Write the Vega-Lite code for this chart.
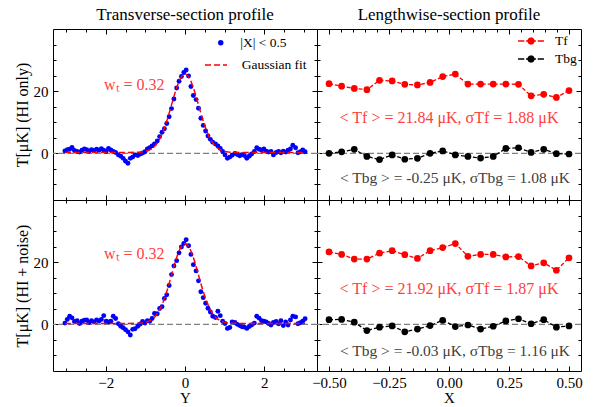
{
  "$schema": "https://vega.github.io/schema/vega-lite/v6.json",
  "padding": {"left": 13, "top": 5, "right": 0, "bottom": 0},
  "background": "white",
  "config": {
    "view": {"stroke": "#000000", "strokeWidth": 1},
    "axis": {"domain": false, "grid": false, "ticks": true, "tickColor": "#000000", "tickWidth": 1, "labelFlush": false, "labelOverlap": false, "labelFont": "Liberation Serif", "labelFontSize": 15, "labelColor": "#000000", "titleFont": "Liberation Serif", "titleFontSize": 16, "titleFontWeight": "normal", "titleColor": "#000000"},
    "title": {"font": "Liberation Serif", "fontSize": 17, "fontWeight": "normal", "color": "#000000", "offset": 5, "anchor": "middle"},
    "legend": {"labelFont": "Liberation Serif", "labelFontSize": 13.5, "labelColor": "#000000", "padding": 0, "symbolStrokeWidth": 1.5}
  },
  "datasets": {
    "trans_hi": [
      {"Y":-3.03,"T":0.8},{"Y":-2.97,"T":1.2},{"Y":-2.91,"T":1.3},{"Y":-2.85,"T":1.9},{"Y":-2.79,"T":0.9},{"Y":-2.72,"T":0.6},{"Y":-2.66,"T":0.4},{"Y":-2.60,"T":1.0},{"Y":-2.54,"T":1.4},{"Y":-2.48,"T":1.2},
      {"Y":-2.42,"T":0.7},{"Y":-2.36,"T":1.2},{"Y":-2.30,"T":0.9},{"Y":-2.23,"T":1.3},{"Y":-2.17,"T":1.0},{"Y":-2.11,"T":1.5},{"Y":-2.05,"T":1.0},{"Y":-1.99,"T":0.6},{"Y":-1.93,"T":1.6},{"Y":-1.87,"T":1.1},
      {"Y":-1.81,"T":0.6},{"Y":-1.75,"T":0.3},{"Y":-1.68,"T":-0.5},{"Y":-1.62,"T":-0.9},{"Y":-1.56,"T":-1.6},{"Y":-1.50,"T":-2.5},{"Y":-1.44,"T":-3.2},{"Y":-1.38,"T":-1.6},{"Y":-1.32,"T":-1.2},{"Y":-1.26,"T":-0.5},
      {"Y":-1.19,"T":-0.7},{"Y":-1.13,"T":-0.2},{"Y":-1.07,"T":0.1},{"Y":-1.01,"T":0.5},{"Y":-0.95,"T":1.4},{"Y":-0.89,"T":1.8},{"Y":-0.83,"T":2.4},{"Y":-0.77,"T":3.0},{"Y":-0.70,"T":4.0},{"Y":-0.64,"T":5.4},
      {"Y":-0.58,"T":6.8},{"Y":-0.52,"T":7.9},{"Y":-0.46,"T":9.6},{"Y":-0.40,"T":11.8},{"Y":-0.34,"T":14.4},{"Y":-0.28,"T":17.5},{"Y":-0.21,"T":21.0},{"Y":-0.15,"T":23.2},{"Y":-0.09,"T":24.7},{"Y":-0.03,"T":26.0},
      {"Y":0.03,"T":26.8},{"Y":0.09,"T":24.9},{"Y":0.15,"T":21.5},{"Y":0.21,"T":18.6},{"Y":0.28,"T":17.3},{"Y":0.34,"T":14.5},{"Y":0.40,"T":11.3},{"Y":0.46,"T":9.0},{"Y":0.52,"T":7.2},{"Y":0.58,"T":5.6},
      {"Y":0.64,"T":4.5},{"Y":0.70,"T":3.6},{"Y":0.77,"T":3.0},{"Y":0.83,"T":2.4},{"Y":0.89,"T":1.6},{"Y":0.95,"T":0.6},{"Y":1.01,"T":-0.5},{"Y":1.07,"T":-1.6},{"Y":1.13,"T":-1.2},{"Y":1.19,"T":-0.6},
      {"Y":1.26,"T":0.0},{"Y":1.32,"T":-0.4},{"Y":1.38,"T":-0.8},{"Y":1.44,"T":-0.4},{"Y":1.50,"T":-0.7},{"Y":1.56,"T":-1.6},{"Y":1.62,"T":-0.9},{"Y":1.68,"T":-0.2},{"Y":1.75,"T":0.6},{"Y":1.81,"T":1.8},
      {"Y":1.87,"T":1.3},{"Y":1.93,"T":1.1},{"Y":1.99,"T":1.4},{"Y":2.05,"T":0.7},{"Y":2.11,"T":0.4},{"Y":2.17,"T":0.6},{"Y":2.23,"T":-0.5},{"Y":2.30,"T":0.3},{"Y":2.36,"T":0.6},{"Y":2.42,"T":0.2},
      {"Y":2.48,"T":0.7},{"Y":2.54,"T":0.4},{"Y":2.60,"T":1.0},{"Y":2.66,"T":1.4},{"Y":2.72,"T":2.6},{"Y":2.79,"T":1.8},{"Y":2.85,"T":0.2},{"Y":2.91,"T":0.5},{"Y":2.97,"T":1.1},{"Y":3.03,"T":0.5}
    ],
    "trans_noise": [
      {"Y":-3.03,"T":0.4},{"Y":-2.97,"T":1.6},{"Y":-2.91,"T":2.6},{"Y":-2.85,"T":2.1},{"Y":-2.79,"T":0.9},{"Y":-2.72,"T":1.2},{"Y":-2.66,"T":0.3},{"Y":-2.60,"T":1.0},{"Y":-2.54,"T":1.3},{"Y":-2.48,"T":1.4},
      {"Y":-2.42,"T":0.6},{"Y":-2.36,"T":1.2},{"Y":-2.30,"T":0.8},{"Y":-2.23,"T":1.4},{"Y":-2.17,"T":1.1},{"Y":-2.11,"T":1.6},{"Y":-2.05,"T":2.8},{"Y":-1.99,"T":1.0},{"Y":-1.93,"T":0.8},{"Y":-1.87,"T":1.0},
      {"Y":-1.81,"T":2.6},{"Y":-1.75,"T":1.9},{"Y":-1.68,"T":0.2},{"Y":-1.62,"T":-0.6},{"Y":-1.56,"T":-1.1},{"Y":-1.50,"T":-1.7},{"Y":-1.44,"T":-2.4},{"Y":-1.38,"T":-3.4},{"Y":-1.32,"T":-1.6},{"Y":-1.26,"T":-1.4},
      {"Y":-1.19,"T":-0.6},{"Y":-1.13,"T":0.1},{"Y":-1.07,"T":0.9},{"Y":-1.01,"T":0.4},{"Y":-0.95,"T":1.2},{"Y":-0.89,"T":1.0},{"Y":-0.83,"T":1.9},{"Y":-0.77,"T":3.5},{"Y":-0.70,"T":3.4},{"Y":-0.64,"T":5.1},
      {"Y":-0.58,"T":5.7},{"Y":-0.52,"T":8.3},{"Y":-0.46,"T":9.5},{"Y":-0.40,"T":12.5},{"Y":-0.34,"T":16.0},{"Y":-0.28,"T":18.8},{"Y":-0.21,"T":20.5},{"Y":-0.15,"T":23.0},{"Y":-0.09,"T":24.9},{"Y":-0.03,"T":26.0},
      {"Y":0.03,"T":27.2},{"Y":0.09,"T":25.3},{"Y":0.15,"T":22.5},{"Y":0.21,"T":19.2},{"Y":0.28,"T":17.2},{"Y":0.34,"T":14.0},{"Y":0.40,"T":10.5},{"Y":0.46,"T":8.6},{"Y":0.52,"T":6.8},{"Y":0.58,"T":5.2},
      {"Y":0.64,"T":4.0},{"Y":0.70,"T":2.6},{"Y":0.77,"T":2.2},{"Y":0.83,"T":4.2},{"Y":0.89,"T":2.8},{"Y":0.95,"T":1.0},{"Y":1.01,"T":0.3},{"Y":1.07,"T":-1.3},{"Y":1.13,"T":-1.0},{"Y":1.19,"T":0.8},
      {"Y":1.26,"T":0.6},{"Y":1.32,"T":0.0},{"Y":1.38,"T":-0.4},{"Y":1.44,"T":-0.8},{"Y":1.50,"T":-0.9},{"Y":1.56,"T":-1.3},{"Y":1.62,"T":-0.7},{"Y":1.68,"T":-0.2},{"Y":1.75,"T":0.4},{"Y":1.81,"T":2.6},
      {"Y":1.87,"T":2.0},{"Y":1.93,"T":1.2},{"Y":1.99,"T":1.0},{"Y":2.05,"T":0.8},{"Y":2.11,"T":0.3},{"Y":2.17,"T":-0.2},{"Y":2.23,"T":0.6},{"Y":2.30,"T":0.9},{"Y":2.36,"T":0.2},{"Y":2.42,"T":1.2},
      {"Y":2.48,"T":-0.4},{"Y":2.54,"T":0.8},{"Y":2.60,"T":-0.2},{"Y":2.66,"T":1.4},{"Y":2.72,"T":2.6},{"Y":2.79,"T":2.4},{"Y":2.85,"T":0.2},{"Y":2.91,"T":0.5},{"Y":2.97,"T":1.0},{"Y":3.03,"T":1.8}
    ],
    "fit_hi": [
      {"Y":-3.03,"T":0.3},{"Y":-1.4,"T":0.31},{"Y":-1.2,"T":0.35},{"Y":-1.1,"T":0.43},{"Y":-1.0,"T":0.63},{"Y":-0.9,"T":1.06},{"Y":-0.8,"T":1.88},{"Y":-0.75,"T":2.51},{"Y":-0.7,"T":3.33},{"Y":-0.65,"T":4.35},{"Y":-0.6,"T":5.61},{"Y":-0.55,"T":7.11},{"Y":-0.5,"T":8.85},{"Y":-0.45,"T":10.8},{"Y":-0.4,"T":12.91},{"Y":-0.35,"T":15.14},{"Y":-0.3,"T":17.38},{"Y":-0.25,"T":19.53},{"Y":-0.2,"T":21.49},{"Y":-0.15,"T":23.16},{"Y":-0.1,"T":24.43},{"Y":-0.05,"T":25.23},
      {"Y":0,"T":25.5},
      {"Y":0.05,"T":25.23},{"Y":0.1,"T":24.43},{"Y":0.15,"T":23.16},{"Y":0.2,"T":21.49},{"Y":0.25,"T":19.53},{"Y":0.3,"T":17.38},{"Y":0.35,"T":15.14},{"Y":0.4,"T":12.91},{"Y":0.45,"T":10.8},{"Y":0.5,"T":8.85},{"Y":0.55,"T":7.11},{"Y":0.6,"T":5.61},{"Y":0.65,"T":4.35},{"Y":0.7,"T":3.33},{"Y":0.75,"T":2.51},{"Y":0.8,"T":1.88},{"Y":0.9,"T":1.06},{"Y":1.0,"T":0.63},{"Y":1.1,"T":0.43},{"Y":1.2,"T":0.35},{"Y":1.4,"T":0.31},{"Y":3.03,"T":0.3}
    ],
    "fit_noise": [
      {"Y":-3.03,"T":0.3},{"Y":-1.4,"T":0.31},{"Y":-1.2,"T":0.35},{"Y":-1.1,"T":0.44},{"Y":-1.0,"T":0.64},{"Y":-0.9,"T":1.07},{"Y":-0.8,"T":1.91},{"Y":-0.75,"T":2.56},{"Y":-0.7,"T":3.39},{"Y":-0.65,"T":4.43},{"Y":-0.6,"T":5.71},{"Y":-0.55,"T":7.25},{"Y":-0.5,"T":9.02},{"Y":-0.45,"T":11.0},{"Y":-0.4,"T":13.17},{"Y":-0.35,"T":15.43},{"Y":-0.3,"T":17.71},{"Y":-0.25,"T":19.91},{"Y":-0.2,"T":21.91},{"Y":-0.15,"T":23.62},{"Y":-0.1,"T":24.91},{"Y":-0.05,"T":25.72},
      {"Y":0,"T":26.0},
      {"Y":0.05,"T":25.72},{"Y":0.1,"T":24.91},{"Y":0.15,"T":23.62},{"Y":0.2,"T":21.91},{"Y":0.25,"T":19.91},{"Y":0.3,"T":17.71},{"Y":0.35,"T":15.43},{"Y":0.4,"T":13.17},{"Y":0.45,"T":11.0},{"Y":0.5,"T":9.02},{"Y":0.55,"T":7.25},{"Y":0.6,"T":5.71},{"Y":0.65,"T":4.43},{"Y":0.7,"T":3.39},{"Y":0.75,"T":2.56},{"Y":0.8,"T":1.91},{"Y":0.9,"T":1.07},{"Y":1.0,"T":0.64},{"Y":1.1,"T":0.44},{"Y":1.2,"T":0.35},{"Y":1.4,"T":0.31},{"Y":3.03,"T":0.3}
    ],
    "len_hi": [
      {"X":-0.5,"T":22.4,"series":"Tf"},{"X":-0.4474,"T":21.6,"series":"Tf"},{"X":-0.3947,"T":20.9,"series":"Tf"},{"X":-0.3421,"T":20.5,"series":"Tf"},{"X":-0.2895,"T":23.5,"series":"Tf"},{"X":-0.2368,"T":23.3,"series":"Tf"},{"X":-0.1842,"T":22.2,"series":"Tf"},{"X":-0.1316,"T":22.0,"series":"Tf"},{"X":-0.0789,"T":22.8,"series":"Tf"},{"X":-0.0263,"T":24.7,"series":"Tf"},
      {"X":0.0263,"T":25.5,"series":"Tf"},{"X":0.0789,"T":22.3,"series":"Tf"},{"X":0.1316,"T":22.3,"series":"Tf"},{"X":0.1842,"T":22.3,"series":"Tf"},{"X":0.2368,"T":22.3,"series":"Tf"},{"X":0.2895,"T":22.2,"series":"Tf"},{"X":0.3421,"T":18.5,"series":"Tf"},{"X":0.3947,"T":19.0,"series":"Tf"},{"X":0.4474,"T":18.0,"series":"Tf"},{"X":0.5,"T":20.2,"series":"Tf"},
      {"X":-0.5,"T":0.0,"series":"Tbg"},{"X":-0.4474,"T":0.5,"series":"Tbg"},{"X":-0.3947,"T":1.3,"series":"Tbg"},{"X":-0.3421,"T":-1.0,"series":"Tbg"},{"X":-0.2895,"T":-2.0,"series":"Tbg"},{"X":-0.2368,"T":-0.5,"series":"Tbg"},{"X":-0.1842,"T":-1.9,"series":"Tbg"},{"X":-0.1316,"T":-1.6,"series":"Tbg"},{"X":-0.0789,"T":0.0,"series":"Tbg"},{"X":-0.0263,"T":0.8,"series":"Tbg"},
      {"X":0.0263,"T":-0.5,"series":"Tbg"},{"X":0.0789,"T":-1.0,"series":"Tbg"},{"X":0.1316,"T":-1.5,"series":"Tbg"},{"X":0.1842,"T":-1.0,"series":"Tbg"},{"X":0.2368,"T":1.6,"series":"Tbg"},{"X":0.2895,"T":1.8,"series":"Tbg"},{"X":0.3421,"T":0.3,"series":"Tbg"},{"X":0.3947,"T":1.3,"series":"Tbg"},{"X":0.4474,"T":-0.1,"series":"Tbg"},{"X":0.5,"T":-0.2,"series":"Tbg"}
    ],
    "len_noise": [
      {"X":-0.5,"T":23.3,"series":"Tf"},{"X":-0.4474,"T":22.5,"series":"Tf"},{"X":-0.3947,"T":21.0,"series":"Tf"},{"X":-0.3421,"T":21.0,"series":"Tf"},{"X":-0.2895,"T":22.9,"series":"Tf"},{"X":-0.2368,"T":23.7,"series":"Tf"},{"X":-0.1842,"T":22.4,"series":"Tf"},{"X":-0.1316,"T":21.2,"series":"Tf"},{"X":-0.0789,"T":23.7,"series":"Tf"},{"X":-0.0263,"T":24.7,"series":"Tf"},
      {"X":0.0263,"T":26.0,"series":"Tf"},{"X":0.0789,"T":21.9,"series":"Tf"},{"X":0.1316,"T":22.5,"series":"Tf"},{"X":0.1842,"T":22.5,"series":"Tf"},{"X":0.2368,"T":21.7,"series":"Tf"},{"X":0.2895,"T":21.8,"series":"Tf"},{"X":0.3421,"T":18.8,"series":"Tf"},{"X":0.3947,"T":19.8,"series":"Tf"},{"X":0.4474,"T":17.4,"series":"Tf"},{"X":0.5,"T":21.4,"series":"Tf"},
      {"X":-0.5,"T":1.5,"series":"Tbg"},{"X":-0.4474,"T":1.6,"series":"Tbg"},{"X":-0.3947,"T":0.7,"series":"Tbg"},{"X":-0.3421,"T":-2.0,"series":"Tbg"},{"X":-0.2895,"T":-0.9,"series":"Tbg"},{"X":-0.2368,"T":-0.5,"series":"Tbg"},{"X":-0.1842,"T":-2.4,"series":"Tbg"},{"X":-0.1316,"T":-1.5,"series":"Tbg"},{"X":-0.0789,"T":-0.4,"series":"Tbg"},{"X":-0.0263,"T":1.3,"series":"Tbg"},
      {"X":0.0263,"T":-0.7,"series":"Tbg"},{"X":0.0789,"T":-0.2,"series":"Tbg"},{"X":0.1316,"T":-1.5,"series":"Tbg"},{"X":0.1842,"T":-0.6,"series":"Tbg"},{"X":0.2368,"T":1.1,"series":"Tbg"},{"X":0.2895,"T":1.8,"series":"Tbg"},{"X":0.3421,"T":0.2,"series":"Tbg"},{"X":0.3947,"T":1.5,"series":"Tbg"},{"X":0.4474,"T":-0.9,"series":"Tbg"},{"X":0.5,"T":-0.5,"series":"Tbg"}
    ],
    "notes": [
      {"case":"HI only","kind":"w","text":"wₜ = 0.32","x":-1.28,"y":22.0},
      {"case":"HI + noise","kind":"w","text":"wₜ = 0.32","x":-1.28,"y":22.5},
      {"case":"HI only","kind":"f","text":"< Tf > = 21.84 μK, σTf = 1.88 μK","x":0.0,"y":11.4},
      {"case":"HI only","kind":"bg","text":"< Tbg > = -0.25 μK, σTbg = 1.08 μK","x":0.025,"y":-7.9},
      {"case":"HI + noise","kind":"f","text":"< Tf > = 21.92 μK, σTf = 1.87 μK","x":0.0,"y":11.5},
      {"case":"HI + noise","kind":"bg","text":"< Tbg > = -0.03 μK, σTbg = 1.16 μK","x":0.025,"y":-8.5}
    ]
  },
  "columns": 2,
  "spacing": 0,
  "bounds": "flush",
  "align": "all",
  "resolve": {"scale": {"fill": "independent", "stroke": "independent"}},
  "concat": [
    {
      "width": 264, "height": 171,
      "title": "Transverse-section profile",
      "resolve": {"axis": {"x": "independent", "y": "independent"}},
      "layer": [
        {"data": {"values": [{}]}, "mark": {"type": "rule", "color": "#808080", "strokeDash": [6, 3], "strokeWidth": 1.2},
         "encoding": {"y": {"datum": 0, "type": "quantitative", "scale": {"domain": [-15, 40], "nice": false, "zero": false},
           "axis": {"orient": "right", "values": [-10,-5,0,5,10,15,20,25,30,35], "labels": false, "title": null, "tickSize": {"condition": {"test": "datum.value % 20 === 0", "value": -5}, "value": -3}}}}},
        {"data": {"name": "trans_hi"}, "mark": {"type": "circle", "size": 24, "opacity": 1},
         "encoding": {
           "x": {"field": "Y", "type": "quantitative", "scale": {"domain": [-3.33, 3.33], "nice": false, "zero": false},
             "axis": {"orient": "bottom", "values": [-3,-2.5,-2,-1.5,-1,-0.5,0,0.5,1,1.5,2,2.5,3], "labels": false, "title": null, "tickSize": {"condition": {"test": "datum.value % 2 === 0", "value": -5}, "value": -3}}},
           "y": {"field": "T", "type": "quantitative", "scale": {"domain": [-15, 40], "nice": false, "zero": false},
             "axis": {"orient": "left", "values": [-10,-5,0,5,10,15,20,25,30,35], "labelExpr": "datum.value % 20 === 0 ? datum.label : ''", "labelPadding": 10, "title": "T[μK] (HI only)", "titlePadding": 3, "tickSize": {"condition": {"test": "datum.value % 20 === 0", "value": -5}, "value": -3}}},
           "fill": {"datum": "|X| < 0.5", "scale": {"range": ["#0000ff"]},
             "legend": {"orient": "none", "legendX": 161, "legendY": 7, "title": null, "symbolType": "circle", "symbolSize": 30, "labelOffset": 12.7}}
         }},
        {"data": {"name": "fit_hi"}, "mark": {"type": "line", "strokeDash": [6, 3], "strokeWidth": 1.5},
         "encoding": {
           "x": {"field": "Y", "type": "quantitative", "scale": {"domain": [-3.33, 3.33], "nice": false, "zero": false},
             "axis": {"orient": "top", "values": [-3,-2.5,-2,-1.5,-1,-0.5,0,0.5,1,1.5,2,2.5,3], "labels": false, "title": null, "tickSize": {"condition": {"test": "datum.value % 2 === 0", "value": -5}, "value": -3}}},
           "y": {"field": "T", "type": "quantitative", "scale": {"domain": [-15, 40], "nice": false, "zero": false}, "axis": null},
           "stroke": {"datum": "Gaussian fit", "scale": {"range": ["#ff0000"]},
             "legend": {"orient": "none", "legendX": 151, "legendY": 24, "title": null, "symbolType": "stroke", "symbolSize": 484, "symbolDash": [6, 3], "labelOffset": 13.7}}
         }},
        {"data": {"name": "notes"}, "transform": [{"filter": "datum.case === 'HI only' && datum.kind === 'w'"}],
         "mark": {"type": "text", "color": "#ff4040", "fontSize": 16, "font": "Liberation Serif", "baseline": "middle", "align": "center"},
         "encoding": {
           "x": {"field": "x", "type": "quantitative", "scale": {"domain": [-3.33, 3.33], "nice": false, "zero": false}, "axis": null},
           "y": {"field": "y", "type": "quantitative", "scale": {"domain": [-15, 40], "nice": false, "zero": false}, "axis": null},
           "text": {"field": "text"}
         }}
      ]
    },
    {
      "width": 264, "height": 171,
      "title": "Lengthwise-section profile",
      "resolve": {"axis": {"x": "independent", "y": "independent"}},
      "layer": [
        {"data": {"values": [{}]}, "mark": {"type": "rule", "color": "#808080", "strokeDash": [6, 3], "strokeWidth": 1.2},
         "encoding": {"y": {"datum": 0, "type": "quantitative", "scale": {"domain": [-15, 40], "nice": false, "zero": false},
           "axis": {"orient": "right", "values": [-10,-5,0,5,10,15,20,25,30,35], "labels": false, "title": null, "tickSize": {"condition": {"test": "datum.value % 20 === 0", "value": -5}, "value": -3}}}}},
        {"data": {"name": "len_hi"}, "mark": {"type": "line", "strokeWidth": 1.3},
         "encoding": {
           "x": {"field": "X", "type": "quantitative", "scale": {"domain": [-0.55, 0.55], "nice": false, "zero": false},
             "axis": {"orient": "top", "values": [-0.5,-0.45,-0.4,-0.35,-0.3,-0.25,-0.2,-0.15,-0.1,-0.05,0,0.05,0.1,0.15,0.2,0.25,0.3,0.35,0.4,0.45,0.5], "labels": false, "title": null, "tickSize": {"condition": {"test": "abs(round(datum.value*100)) % 25 === 0", "value": -5}, "value": -3}}},
           "y": {"field": "T", "type": "quantitative", "scale": {"domain": [-15, 40], "nice": false, "zero": false}, "axis": null},
           "strokeDash": {"value": [4, 2]},
           "stroke": {"field": "series", "type": "nominal", "scale": {"domain": ["Tf", "Tbg"], "range": ["#ff0000", "#000000"]},
             "legend": {"orient": "none", "legendX": 204, "legendY": 2, "title": null, "symbolType": "M-1.44,0H-0.75M-0.55,0H0.55M0.75,0H1.44M0.32,0A0.32,0.32,0,1,1,-0.32,0A0.32,0.32,0,1,1,0.32,0M0.21,0A0.21,0.21,0,1,1,-0.21,0A0.21,0.21,0,1,1,0.21,0M0.1,0A0.1,0.1,0,1,1,-0.1,0A0.1,0.1,0,1,1,0.1,0", "symbolSize": 324, "symbolDash": [1, 0], "labelOffset": 14, "rowPadding": 1}}
         }},
        {"data": {"name": "len_hi"}, "mark": {"type": "circle", "size": 45, "opacity": 1},
         "encoding": {
           "x": {"field": "X", "type": "quantitative", "scale": {"domain": [-0.55, 0.55], "nice": false, "zero": false},
             "axis": {"orient": "bottom", "values": [-0.5,-0.45,-0.4,-0.35,-0.3,-0.25,-0.2,-0.15,-0.1,-0.05,0,0.05,0.1,0.15,0.2,0.25,0.3,0.35,0.4,0.45,0.5], "labels": false, "title": null, "tickSize": {"condition": {"test": "abs(round(datum.value*100)) % 25 === 0", "value": -5}, "value": -3}}},
           "y": {"field": "T", "type": "quantitative", "scale": {"domain": [-15, 40], "nice": false, "zero": false},
             "axis": {"orient": "left", "values": [-10,-5,0,5,10,15,20,25,30,35], "labels": false, "title": null, "tickSize": {"condition": {"test": "datum.value % 20 === 0", "value": -5}, "value": -3}}},
           "fill": {"field": "series", "type": "nominal", "scale": {"domain": ["Tf", "Tbg"], "range": ["#ff0000", "#000000"]}, "legend": null}
         }},
        {"data": {"name": "notes"}, "transform": [{"filter": "datum.case === 'HI only' && datum.kind !== 'w'"}],
         "mark": {"type": "text", "font": "Liberation Serif", "baseline": "middle", "align": "center"},
         "encoding": {
           "x": {"field": "x", "type": "quantitative", "scale": {"domain": [-0.55, 0.55], "nice": false, "zero": false}, "axis": null},
           "y": {"field": "y", "type": "quantitative", "scale": {"domain": [-15, 40], "nice": false, "zero": false}, "axis": null},
           "text": {"field": "text"},
           "size": {"condition": {"test": "datum.kind === 'bg'", "value": 15.5}, "value": 16},
           "color": {"condition": {"test": "datum.kind === 'bg'", "value": "#404040"}, "value": "#ff4040"}
         }}
      ]
    },
    {
      "width": 264, "height": 171,
      "resolve": {"axis": {"x": "independent", "y": "independent"}},
      "layer": [
        {"data": {"values": [{}]}, "mark": {"type": "rule", "color": "#808080", "strokeDash": [6, 3], "strokeWidth": 1.2},
         "encoding": {"y": {"datum": 0, "type": "quantitative", "scale": {"domain": [-15, 40], "nice": false, "zero": false},
           "axis": {"orient": "right", "values": [-10,-5,0,5,10,15,20,25,30,35], "labels": false, "title": null, "tickSize": {"condition": {"test": "datum.value % 20 === 0", "value": -5}, "value": -3}}}}},
        {"data": {"name": "trans_noise"}, "mark": {"type": "circle", "size": 24, "opacity": 1},
         "encoding": {
           "x": {"field": "Y", "type": "quantitative", "scale": {"domain": [-3.33, 3.33], "nice": false, "zero": false},
             "axis": {"orient": "bottom", "values": [-3,-2.5,-2,-1.5,-1,-0.5,0,0.5,1,1.5,2,2.5,3], "format": ".0f", "labelExpr": "datum.value % 2 === 0 ? datum.label : ''", "labelPadding": 9, "title": "Y", "titleFontSize": 15, "titlePadding": -2, "tickSize": {"condition": {"test": "datum.value % 2 === 0", "value": -5}, "value": -3}}},
           "y": {"field": "T", "type": "quantitative", "scale": {"domain": [-15, 40], "nice": false, "zero": false},
             "axis": {"orient": "left", "values": [-10,-5,0,5,10,15,20,25,30,35], "labelExpr": "datum.value % 20 === 0 ? datum.label : ''", "labelPadding": 10, "title": "T[μK] (HI + noise)", "titlePadding": 3, "tickSize": {"condition": {"test": "datum.value % 20 === 0", "value": -5}, "value": -3}}},
           "fill": {"datum": "|X| < 0.5", "scale": {"range": ["#0000ff"]}, "legend": null}
         }},
        {"data": {"name": "fit_noise"}, "mark": {"type": "line", "strokeDash": [6, 3], "strokeWidth": 1.5},
         "encoding": {
           "x": {"field": "Y", "type": "quantitative", "scale": {"domain": [-3.33, 3.33], "nice": false, "zero": false},
             "axis": {"orient": "top", "values": [-3,-2.5,-2,-1.5,-1,-0.5,0,0.5,1,1.5,2,2.5,3], "labels": false, "title": null, "tickSize": {"condition": {"test": "datum.value % 2 === 0", "value": -5}, "value": -3}}},
           "y": {"field": "T", "type": "quantitative", "scale": {"domain": [-15, 40], "nice": false, "zero": false}, "axis": null},
           "stroke": {"datum": "Gaussian fit", "scale": {"range": ["#ff0000"]}, "legend": null}
         }},
        {"data": {"name": "notes"}, "transform": [{"filter": "datum.case === 'HI + noise' && datum.kind === 'w'"}],
         "mark": {"type": "text", "color": "#ff4040", "fontSize": 16, "font": "Liberation Serif", "baseline": "middle", "align": "center"},
         "encoding": {
           "x": {"field": "x", "type": "quantitative", "scale": {"domain": [-3.33, 3.33], "nice": false, "zero": false}, "axis": null},
           "y": {"field": "y", "type": "quantitative", "scale": {"domain": [-15, 40], "nice": false, "zero": false}, "axis": null},
           "text": {"field": "text"}
         }}
      ]
    },
    {
      "width": 264, "height": 171,
      "resolve": {"axis": {"x": "independent", "y": "independent"}},
      "layer": [
        {"data": {"values": [{}]}, "mark": {"type": "rule", "color": "#808080", "strokeDash": [6, 3], "strokeWidth": 1.2},
         "encoding": {"y": {"datum": 0, "type": "quantitative", "scale": {"domain": [-15, 40], "nice": false, "zero": false},
           "axis": {"orient": "right", "values": [-10,-5,0,5,10,15,20,25,30,35], "labels": false, "title": null, "tickSize": {"condition": {"test": "datum.value % 20 === 0", "value": -5}, "value": -3}}}}},
        {"data": {"name": "len_noise"}, "mark": {"type": "line", "strokeWidth": 1.3},
         "encoding": {
           "x": {"field": "X", "type": "quantitative", "scale": {"domain": [-0.55, 0.55], "nice": false, "zero": false},
             "axis": {"orient": "top", "values": [-0.5,-0.45,-0.4,-0.35,-0.3,-0.25,-0.2,-0.15,-0.1,-0.05,0,0.05,0.1,0.15,0.2,0.25,0.3,0.35,0.4,0.45,0.5], "labels": false, "title": null, "tickSize": {"condition": {"test": "abs(round(datum.value*100)) % 25 === 0", "value": -5}, "value": -3}}},
           "y": {"field": "T", "type": "quantitative", "scale": {"domain": [-15, 40], "nice": false, "zero": false}, "axis": null},
           "strokeDash": {"value": [4, 2]},
           "stroke": {"field": "series", "type": "nominal", "scale": {"domain": ["Tf", "Tbg"], "range": ["#ff0000", "#000000"]}, "legend": null}
         }},
        {"data": {"name": "len_noise"}, "mark": {"type": "circle", "size": 45, "opacity": 1},
         "encoding": {
           "x": {"field": "X", "type": "quantitative", "scale": {"domain": [-0.55, 0.55], "nice": false, "zero": false},
             "axis": {"orient": "bottom", "values": [-0.5,-0.45,-0.4,-0.35,-0.3,-0.25,-0.2,-0.15,-0.1,-0.05,0,0.05,0.1,0.15,0.2,0.25,0.3,0.35,0.4,0.45,0.5], "format": ".2f", "labelExpr": "abs(round(datum.value*100)) % 25 === 0 ? datum.label : ''", "labelPadding": 9, "title": "X", "titleFontSize": 15, "titlePadding": -2, "tickSize": {"condition": {"test": "abs(round(datum.value*100)) % 25 === 0", "value": -5}, "value": -3}}},
           "y": {"field": "T", "type": "quantitative", "scale": {"domain": [-15, 40], "nice": false, "zero": false},
             "axis": {"orient": "left", "values": [-10,-5,0,5,10,15,20,25,30,35], "labels": false, "title": null, "tickSize": {"condition": {"test": "datum.value % 20 === 0", "value": -5}, "value": -3}}},
           "fill": {"field": "series", "type": "nominal", "scale": {"domain": ["Tf", "Tbg"], "range": ["#ff0000", "#000000"]}, "legend": null}
         }},
        {"data": {"name": "notes"}, "transform": [{"filter": "datum.case === 'HI + noise' && datum.kind !== 'w'"}],
         "mark": {"type": "text", "font": "Liberation Serif", "baseline": "middle", "align": "center"},
         "encoding": {
           "x": {"field": "x", "type": "quantitative", "scale": {"domain": [-0.55, 0.55], "nice": false, "zero": false}, "axis": null},
           "y": {"field": "y", "type": "quantitative", "scale": {"domain": [-15, 40], "nice": false, "zero": false}, "axis": null},
           "text": {"field": "text"},
           "size": {"condition": {"test": "datum.kind === 'bg'", "value": 15.5}, "value": 16},
           "color": {"condition": {"test": "datum.kind === 'bg'", "value": "#404040"}, "value": "#ff4040"}
         }}
      ]
    }
  ]
}
